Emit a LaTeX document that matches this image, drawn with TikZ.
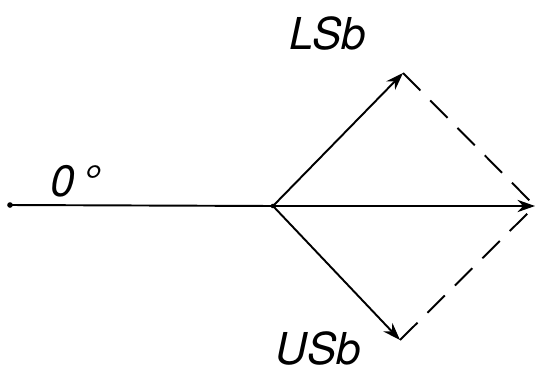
\documentclass[tikz,border=0pt]{standalone}
\usepackage{fontspec}
\setsansfont{TeX Gyre Heros}
\usetikzlibrary{arrows.meta}

\begin{document}
\begin{tikzpicture}[vec/.style={-{Stealth[length=10pt,width=7pt]}, line width=1.1pt}, helper/.style={line width=1.1pt, dash pattern=on 14pt off 8pt}, lbl/.style={font=\sffamily\itshape\fontsize{25}{30}\selectfont, inner sep=0pt}]
\useasboundingbox (0,0) rectangle (10.72,7.44);
\coordinate (L) at (0.20,3.34); \coordinate (O) at (5.46,3.32); \coordinate (R) at (10.70,3.32);
\coordinate (LS) at (8.06,5.98); \coordinate (US) at (8.00,0.64);
\fill (L) circle (1.6pt); \fill (O) circle (1.3pt);
\draw[line width=1.1pt] (L)--(O); \draw[vec] (O)--(R);
\draw[vec] (O)--(LS); \draw[vec] (O)--(US);
\draw[helper] (LS)--(R); \draw[helper] (US)--(R);
\node[lbl] (zero) at (1.50,3.82) {0\,°};
\node[lbl] (lsb) at (6.55,6.78) {LSb};
\node[lbl] (usb) at (6.36,0.48) {USb};
\end{tikzpicture}
\end{document}
